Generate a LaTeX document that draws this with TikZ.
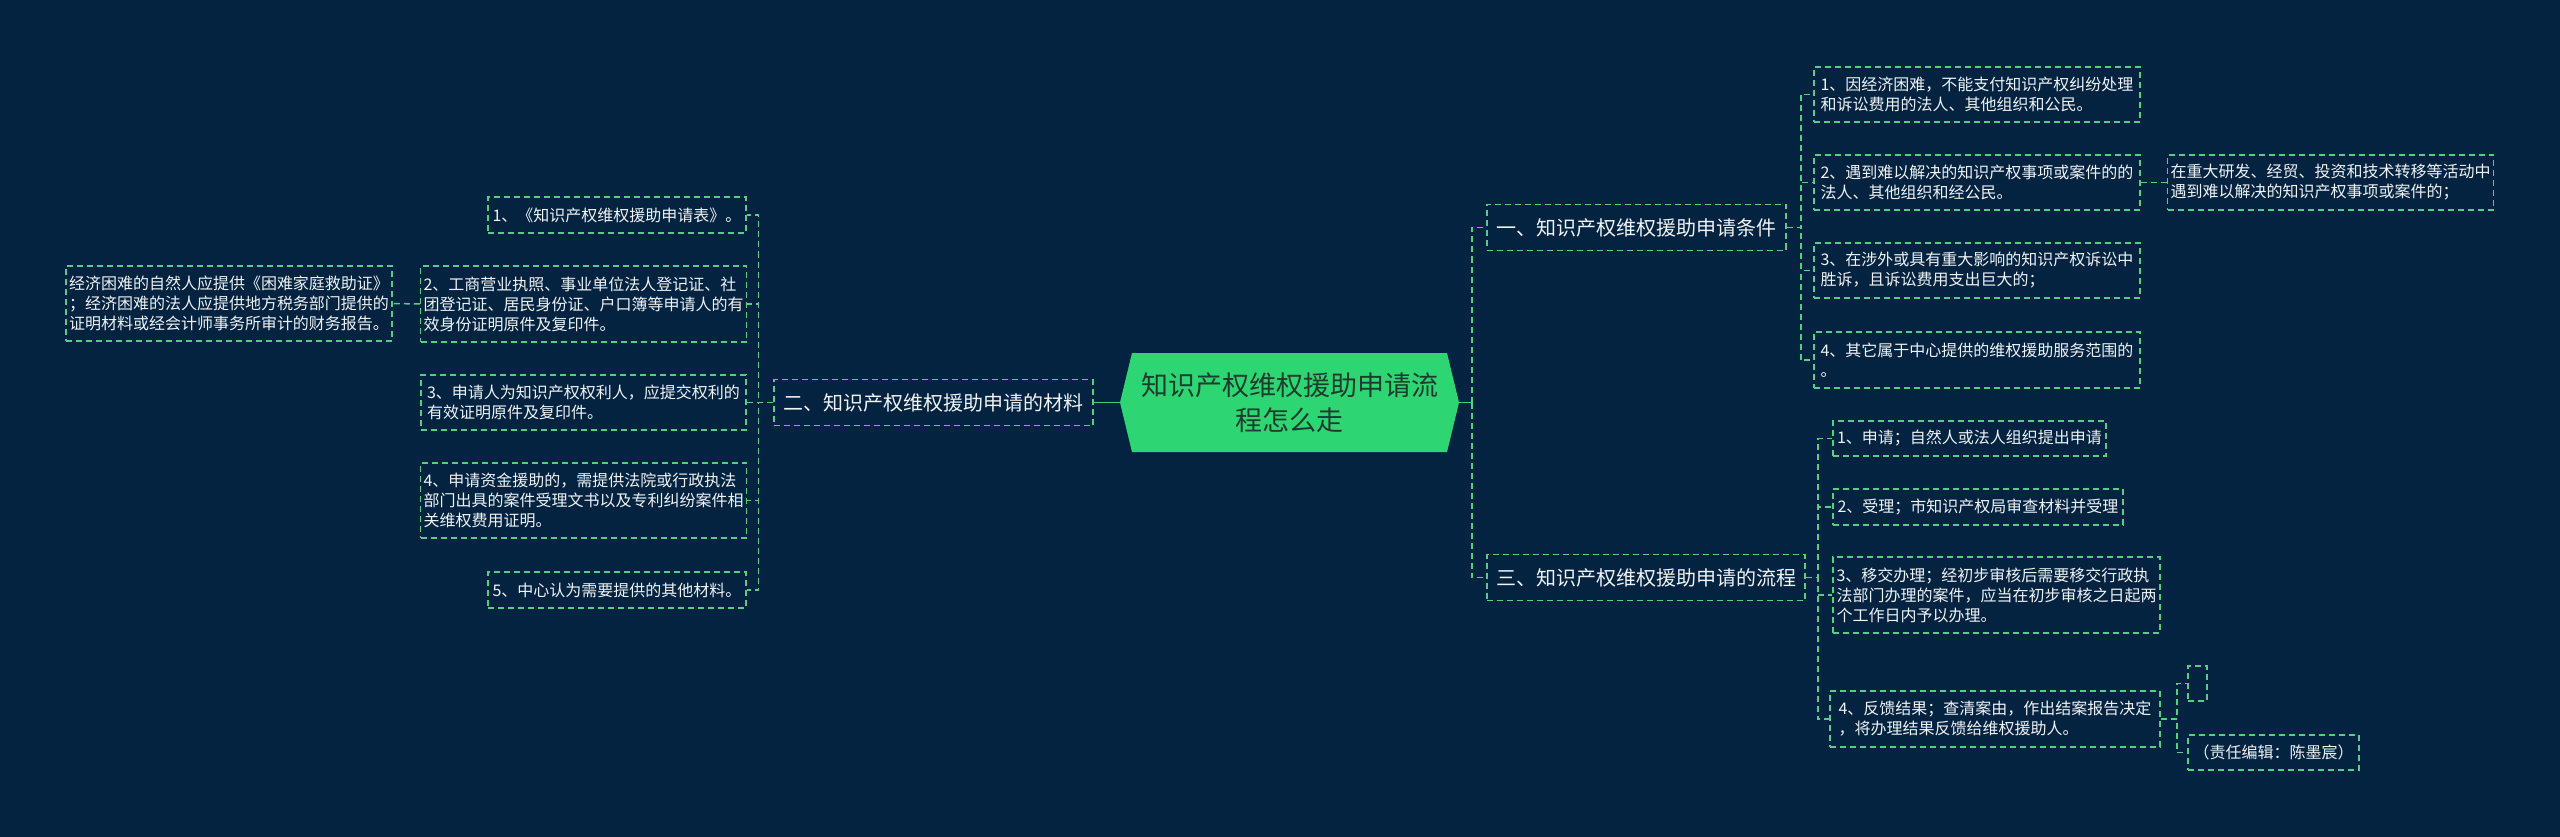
\documentclass[tikz,border=0pt]{standalone}
\usepackage{fontspec}
\setmainfont{Noto Sans CJK SC}
\definecolor{bgnavy}{RGB}{3,35,64}
\definecolor{mapgreen}{RGB}{46,213,115}
\definecolor{dashgreen}{RGB}{84,206,132}
\definecolor{roottext}{RGB}{28,60,46}
\definecolor{leaftext}{RGB}{240,243,246}

\begin{document}
\begin{tikzpicture}[
    x=1pt, y=-1pt,
    link/.style={
        draw=dashgreen,
        line width=1.5pt,
        dash pattern=on 6pt off 4pt
    },
    trunk/.style={draw=mapgreen, line width=1.6pt},
    rootbox/.style={
        rectangle,
        minimum width=339pt,
        minimum height=99pt,
        align=center,
        text=roottext,
        font=\fontsize{27}{35}\selectfont,
        path picture={
            \fill[mapgreen] (path picture bounding box.west)
                -- ([xshift=12pt]path picture bounding box.north west)
                -- ([xshift=-12pt]path picture bounding box.north east)
                -- (path picture bounding box.east)
                -- ([xshift=-12pt]path picture bounding box.south east)
                -- ([xshift=12pt]path picture bounding box.south west)
                -- cycle;
        }
    },
    topic/.style={
        rectangle,
        link,
        text=leaftext,
        font=\fontsize{20}{24}\selectfont,
        inner xsep=9pt,
        minimum height=46pt
    },
    leaf/.style={
        rectangle,
        link,
        text=leaftext,
        font=\fontsize{16}{20}\selectfont,
        align=left,
        inner xsep=3pt,
        inner ysep=4pt
    }
]

% Canvas
\useasboundingbox (0, 0) rectangle (2560, 837);
\fill[bgnavy] (0, 0) rectangle (2560, 837);

% Root
\node[rootbox] (root) at (1289.5, 402.5) {知识产权维权援助申请流\\程怎么走};

% Main topics
\node[topic, minimum width=319pt] (matl) at (933.5, 402.5) {二、知识产权维权援助申请的材料};
\node[topic, minimum width=299pt] (cond) at (1636.5, 227.5) {一、知识产权维权援助申请条件};
\node[topic, minimum width=318pt] (proc) at (1646, 577.5) {三、知识产权维权援助申请的流程};

% Materials
\node[leaf, minimum width=258pt, minimum height=36pt] (matl1) at (617, 215) {1、《知识产权维权援助申请表》。};
\node[leaf, minimum width=325pt, minimum height=76pt] (matl2) at (583.5, 304) {2、工商营业执照、事业单位法人登记证、社\\团登记证、居民身份证、户口簿等申请人的有\\效身份证明原件及复印件。};
\node[leaf, minimum width=325pt, minimum height=55pt] (matl3) at (583.5, 402.5) {3、申请人为知识产权权利人，应提交权利的\\有效证明原件及复印件。};
\node[leaf, minimum width=325pt, minimum height=75pt] (matl4) at (583.5, 500.5) {4、申请资金援助的，需提供法院或行政执法\\部门出具的案件受理文书以及专利纠纷案件相\\关维权费用证明。};
\node[leaf, minimum width=258pt, minimum height=36pt] (matl5) at (617, 590) {5、中心认为需要提供的其他材料。};
\node[leaf, minimum width=326pt, minimum height=75pt] (note) at (229, 303.5) {经济困难的自然人应提供《困难家庭救助证》\\；经济困难的法人应提供地方税务部门提供的\\证明材料或经会计师事务所审计的财务报告。};

% Conditions
\node[leaf, minimum width=326pt, minimum height=55pt] (cond1) at (1977, 94.5) {1、因经济困难，不能支付知识产权纠纷处理\\和诉讼费用的法人、其他组织和公民。};
\node[leaf, minimum width=326pt, minimum height=55pt] (cond2) at (1977, 182.5) {2、遇到难以解决的知识产权事项或案件的的\\法人、其他组织和经公民。};
\node[leaf, minimum width=326pt, minimum height=55pt] (cond3) at (1977, 270.5) {3、在涉外或具有重大影响的知识产权诉讼中\\胜诉，且诉讼费用支出巨大的；};
\node[leaf, minimum width=326pt, minimum height=56pt] (cond4) at (1977, 360) {4、其它属于中心提供的维权援助服务范围的\\。};
\node[leaf, minimum width=325pt, minimum height=55pt] (cond2x) at (2330.5, 182.5) {在重大研发、经贸、投资和技术转移等活动中\\遇到难以解决的知识产权事项或案件的；};

% Procedure
\node[leaf, minimum width=273pt, minimum height=35pt] (proc1) at (1969.5, 438.5) {1、申请；自然人或法人组织提出申请};
\node[leaf, minimum width=290pt, minimum height=36pt] (proc2) at (1978, 507) {2、受理；市知识产权局审查材料并受理};
\node[leaf, minimum width=327pt, minimum height=76pt] (proc3) at (1996.5, 595) {3、移交办理；经初步审核后需要移交行政执\\法部门办理的案件，应当在初步审核之日起两\\个工作日内予以办理。};
\node[leaf, minimum width=330pt, minimum height=56pt] (proc4) at (1995, 719) {4、反馈结果；查清案由，作出结案报告决定\\，将办理结果反馈给维权援助人。};
\node[leaf, minimum width=19pt, minimum height=35pt] (blank) at (2197.5, 683.5) {};
\node[leaf, minimum width=171pt, minimum height=35pt] (editor) at (2273.5, 752.5) {（责任编辑：陈墨宸）};

% Connectors
\coordinate (rbus) at (1472, 402.5);
\draw[trunk] (root.west) -- (matl.east);
\draw[trunk] (root.east) -- (rbus);
\draw[link] (rbus) |- (cond.west);
\draw[link] (rbus) |- (proc.west);

\foreach \n in {matl1, matl2, matl3, matl4, matl5}
    \draw[link] (matl.west) -- ++(-15, 0) |- (\n.east);
\draw[link] (matl2.west) -- (note.east);

\foreach \n in {cond1, cond2, cond3, cond4}
    \draw[link] (cond.east) -- ++(14, 0) |- (\n.west);
\draw[link] (cond2.east) -- (cond2x.west);

\foreach \n in {proc1, proc2, proc3, proc4}
    \draw[link] (proc.east) -- ++(12, 0) |- (\n.west);
\foreach \n in {blank, editor}
    \draw[link] (proc4.east) -- ++(16, 0) |- (\n.west);

\end{tikzpicture}
\end{document}
